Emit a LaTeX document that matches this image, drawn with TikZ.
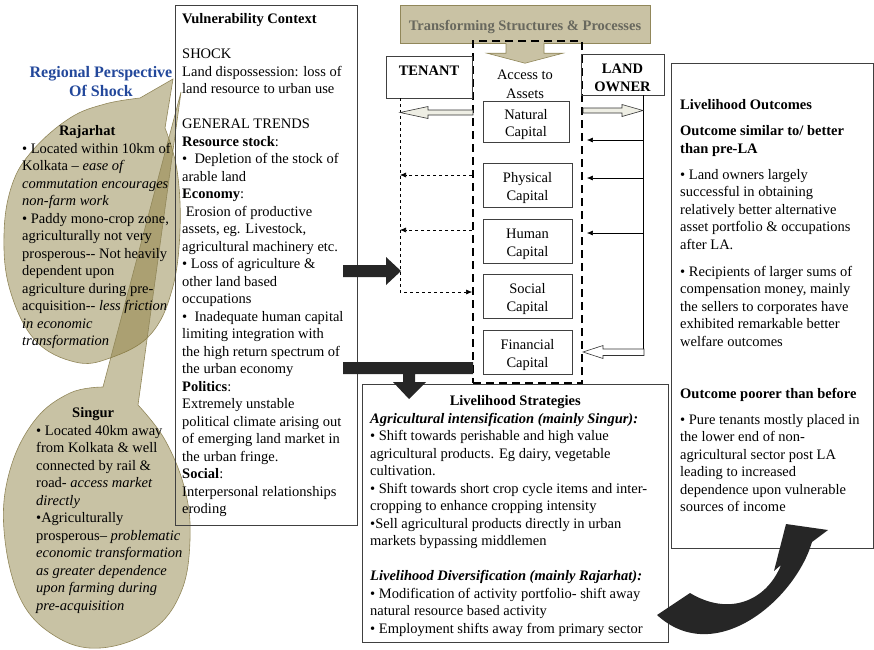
\documentclass[tikz,border=0pt]{standalone}
\usepackage{fontspec}
\setmainfont{Liberation Serif}
\usetikzlibrary{arrows.meta}

\definecolor{khaki}{RGB}{134,119,53}
\definecolor{khakibox}{RGB}{201,194,164}
\definecolor{khakiline}{RGB}{145,135,90}
\definecolor{tspgrey}{RGB}{104,104,94}
\definecolor{regblue}{RGB}{35,72,155}
\definecolor{blockgrey}{RGB}{38,38,38}
\definecolor{hollowfill}{RGB}{238,238,228}
\newcommand\fs{\fontsize{14.5}{17.5}\selectfont}
\newcommand\capt[1]{\rule{0pt}{16pt}#1\\Capital}

\begin{document}
\begin{tikzpicture}[x=1pt,y=-1pt,
  every node/.style={font=\fs},
  box/.style={draw=black!75,line width=.8pt},
  txt/.style={align=left,anchor=north west,inner sep=0pt,execute at begin node=\strut},
  low/.style={execute at begin node=\rule{0pt}{#1}},
  capbox/.style={draw=black!75,line width=.7pt,minimum width=89pt,align=center,inner sep=0pt},
  callout/.style={fill=khaki,fill opacity=.45,draw=khakiline,line width=.6pt},
  block/.style={fill=blockgrey},
  hollow/.style={draw=black!80,fill=hollowfill,line width=.6pt},
  arr/.style={line width=.6pt,-{Latex[length=6pt,width=5pt]}}]
\useasboundingbox (0,0) rectangle (874,649);

% regional perspective callouts
\path[callout] (173,79) -- plot[smooth,tension=.65] coordinates {(165,128) (177,170) (180,230) (172,290) (150,335) (110,358) (75,362) (35,340) (10,290) (4,235) (12,185) (33,150) (70,118) (105,104) (140,98)} -- cycle;
\path[callout] (181,92) -- plot[smooth,tension=.65] coordinates {(138,405) (165,440) (185,490) (190,540) (181,592) (152,630) (100,648) (55,636) (20,598) (4,530) (10,470) (35,420) (70,393) (103,387)} -- cycle;
\node[font=\fontsize{16}{19}\selectfont\bfseries,text=regblue,align=center,inner sep=0pt] (reg) at (101,82) {Regional Perspective\\Of Shock};
\node[txt] (raj) at (22,125.25) {\makebox[130pt]{\textbf{Rajarhat}}\\
• Located within 10km of\\
Kolkata – \textit{ease of}\\
\textit{commutation encourages}\\
\textit{non-farm work}\\
• Paddy mono-crop zone,\\
agriculturally not very\\
prosperous-{}- Not heavily\\
dependent upon\\
agriculture during pre-\\
acquisition-{}- \textit{less friction}\\
\textit{in economic}\\
\textit{transformation}};
\node[txt] (sin) at (36,407.25) {\makebox[114pt]{\textbf{Singur}}\\
• Located 40km away\\
from Kolkata \& well\\
connected by rail \&\\
road- \textit{access market}\\
\textit{directly}\\
•Agriculturally\\
prosperous– \textit{problematic}\\
\textit{economic transformation}\\
\textit{as greater dependence}\\
\textit{upon farming during}\\
\textit{pre-acquisition}};

% vulnerability context
\node[box,minimum width=182pt,minimum height=520pt,anchor=north west,inner sep=0pt] (vc) at (175,5) {};
\node[txt] (vctxt) at (182,13.25) {\textbf{Vulnerability Context}\\[17.5pt]
SHOCK\\
Land dispossession: loss of\\
land resource to urban use\\[17.5pt]
GENERAL TRENDS\\
\textbf{Resource stock}:\\
•\ \ Depletion of the stock of\\
arable land\\
\textbf{Economy}:\\
\ Erosion of productive\\
assets, eg. Livestock,\\
agricultural machinery etc.\\
• Loss of agriculture \&\\
other land based\\
occupations\\
•\ \ Inadequate human capital\\
limiting integration with\\
the high return spectrum of\\
the urban economy\\
\textbf{Politics}:\\
Extremely unstable\\
political climate arising out\\
of emerging land market in\\
the urban fringe.\\
\textbf{Social}:\\
Interpersonal relationships\\
eroding};

% transforming structures and access to assets
\node[draw=khakiline,fill=khakibox,minimum width=250pt,minimum height=38pt,text=tspgrey,font=\fs\bfseries,low=16pt] (tsp) at (525,24) {Transforming Structures \& Processes};
\node[draw,line width=1.8pt,dash pattern=on 8pt off 5pt,minimum width=109pt,minimum height=342pt,inner sep=0pt] (acc) at (527.5,212) {};
\filldraw[fill=khakibox,draw=khakiline,line width=.6pt] (tsp.south) ++(-19,0) -- ++(0,10) -- ++(-19,0) -- ++(38,10) -- ++(38,-10) -- ++(-19,0) -- ++(0,-10);
\node[align=center,inner sep=0pt] (acctxt) at (525,84) {Access to\\[1.5pt]Assets};
\node[capbox,minimum width=86pt,minimum height=41pt] (nat) at (526,121.5) {\capt{Natural}};
\node[capbox,minimum height=44pt] (phy) at (527.5,185) {\capt{Physical}};
\node[capbox,minimum height=44pt] (hum) at (527.5,241) {\capt{Human}};
\node[capbox,minimum height=44pt] (soc) at (527.5,296) {\capt{Social}};
\node[capbox,minimum height=44pt] (fin) at (527.5,352) {\capt{Financial}};

% tenant side
\node[box,minimum width=86pt,minimum height=42pt,align=center,font=\fs\bfseries,inner sep=0pt] (tenant) at (429,77) {\rule{0pt}{14pt}TENANT\\~};
\coordinate (tl) at (400,292);
\draw[arr,dashed] (tl |- tenant.south) -- (tl) -- (acc.west |- tl);
\draw[arr,dashed] ([yshift=10pt]acc.west |- phy) -- ([yshift=10pt]tl |- phy);
\draw[arr,dashed] ([yshift=11pt]acc.west |- hum) -- ([yshift=11pt]tl |- hum);
\draw[hollow] (400,112.5) -- (428,106.5) -- (428,110) -- (473,110) -- (473,115) -- (428,115) -- (428,118.5) -- cycle;

% land owner side
\node[box,minimum width=83pt,minimum height=41pt,align=center,font=\fs\bfseries,inner sep=0pt] (owner) at (622.5,74.5) {\rule{0pt}{16pt}LAND\\OWNER};
\coordinate (ol) at (643,352);
\draw[line width=.6pt] (ol |- owner.south) -- (ol);
\draw[arr,shorten >=4pt] ([yshift=-18.5pt]ol |- nat) -- ([yshift=-18.5pt]acc.east |- nat);
\draw[arr,shorten >=4pt] ([yshift=7pt]ol |- phy) -- ([yshift=7pt]acc.east |- phy);
\draw[arr,shorten >=4pt] ([yshift=8pt]ol |- hum) -- ([yshift=8pt]acc.east |- hum);
\draw[hollow] (643,110.5) -- (622,104.5) -- (622,108) -- (583,108) -- (583,113) -- (622,113) -- (622,116.5) -- cycle;
\draw[hollow,fill=white] (583,352) -- (603,345.5) -- (603,349) -- (644,349) -- (644,355.5) -- (603,355.5) -- (603,358.5) -- cycle;

% livelihood strategies
\node[box,minimum width=306pt,minimum height=258pt,anchor=north west,inner sep=0pt] (ls) at (362,384) {};
\node[txt] (lstxt) at (370,395.25) {\makebox[290pt]{\textbf{Livelihood Strategies}}\\
\textbf{\textit{Agricultural intensification (mainly Singur):}}\\
• Shift towards perishable and high value\\
agricultural products. Eg dairy, vegetable\\
cultivation.\\
• Shift towards short crop cycle items and inter-\\
cropping to enhance cropping intensity\\
•Sell agricultural products directly in urban\\
markets bypassing middlemen\\[17.5pt]
\textbf{\textit{Livelihood Diversification (mainly Rajarhat):}}\\
• Modification of activity portfolio- shift away\\
natural resource based activity\\
• Employment shifts away from primary sector};

% livelihood outcomes
\node[box,minimum width=202pt,minimum height=485pt,anchor=north west,inner sep=0pt] (lo) at (671,63) {};
\node[txt] (lotxt) at (680,99.25) {\textbf{Livelihood Outcomes}\\[8.5pt]
\textbf{Outcome similar to/ better}\\
\textbf{than pre-LA}\\[8.5pt]
• Land owners largely\\
successful in obtaining\\
relatively better alternative\\
asset portfolio \& occupations\\
after LA.\\[9.5pt]
• Recipients of larger sums of\\
compensation money, mainly\\
the sellers to corporates have\\
exhibited remarkable better\\
welfare outcomes\\[34.5pt]
\textbf{Outcome poorer than before}\\[8.5pt]
• Pure tenants mostly placed in\\
the lower end of non-\\
agricultural sector post LA\\
leading to increased\\
dependence upon vulnerable\\
sources of income};

% block arrows
\fill[block] (343,265) -- (386,265) -- (386,257) -- (401,271) -- (386,285) -- (386,277) -- (343,277) -- cycle;
\fill[block] (343,362) -- (473,362) -- (473,374) -- (415,374) -- (415,382) -- (426,382) -- (409,399) -- (393,382) -- (403,382) -- (403,374) -- (343,374) -- cycle;
\fill[block] (657,615) -- (690,593) .. controls (728,616) and (766,602) .. (781,565) -- (774,571) -- (786,524) -- (828,530) -- (812,542) .. controls (795,600) and (715,668) .. (657,615) -- cycle;
\end{tikzpicture}
\end{document}
